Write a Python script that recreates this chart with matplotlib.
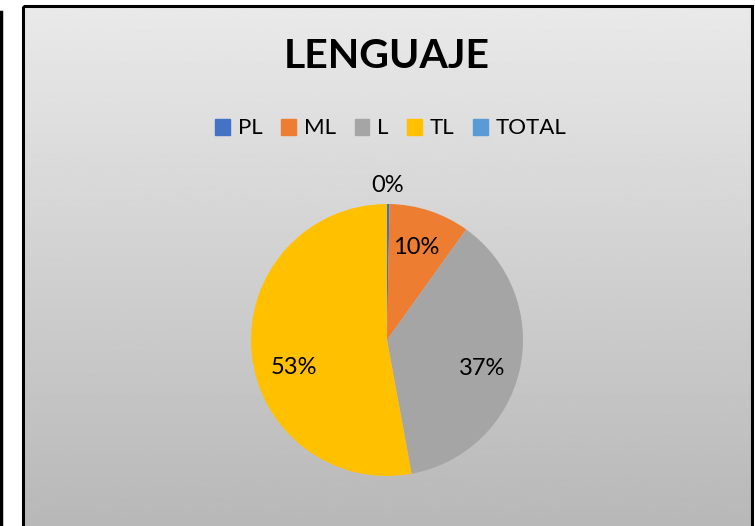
import matplotlib.pyplot as plt
import matplotlib.patches as mpatches
import numpy as np

plt.rcParams['font.family'] = ['Lato', 'DejaVu Sans']

# data
categories = ["PL", "ML", "L", "TL", "TOTAL"]
values = [0.3, 9.6, 37.2, 52.9, 0.0]
labels = ["0%", "10%", "37%", "53%", ""]
colors = ["#4472C4", "#ED7D31", "#A5A5A5", "#FFC000", "#5B9BD5"]

W, H = 755, 526
fig = plt.figure(figsize=(W / 100, H / 100), dpi=100)

# background in pixel coords
bg = fig.add_axes([0, 0, 1, 1])
bg.set_xlim(0, W); bg.set_ylim(H, 0); bg.axis("off")
grad = np.linspace(0.915, 0.72, 256).reshape(-1, 1)
bg.imshow(grad, cmap="gray", vmin=0, vmax=1, extent=[23, 752, H, 6], aspect="auto")
bg.add_patch(mpatches.Rectangle((23, 6), 729, H + 10, fill=False, ec="black", lw=2.2))
bg.plot([1, 1], [12, H], color="black", lw=2.5)

# pie
cx, cy, r = 387, 340, 136
ax = fig.add_axes([(cx - r) / W, (H - cy - r) / H, 2 * r / W, 2 * r / H])
wedges, _ = ax.pie(values, colors=colors, startangle=90, counterclock=False,
                   radius=1, wedgeprops=dict(linewidth=0))
ax.set_xlim(-1, 1); ax.set_ylim(-1, 1)

# excel's label placement is a bit off the bisector, nudge in pixels (x, down)
nudge = [(-1, 3), (-2, 0), (0, 7), (4, 19), (0, 0)]

total = sum(values)
start = 90.0
for v, lab, (nx, ny) in zip(values, labels, nudge):
    ang = np.deg2rad(start - v / total * 180)
    start -= v / total * 360
    if not lab:
        continue
    rr = 1.16 if v < 1 else 0.72
    ax.annotate(lab, (rr * np.cos(ang), rr * np.sin(ang)),
                xytext=(nx * 0.72, -ny * 0.72), textcoords="offset points",
                ha="center", va="center", fontsize=17, color="#000000",
                annotation_clip=False)

# title
fig.text(cx / W, 1 - 56 / H, "LENGUAJE", ha="center", va="center",
         fontsize=29.5, fontweight="bold")

handles = [mpatches.Patch(color=c, label=n) for c, n in zip(colors, categories)]
fig.legend(handles=handles, loc="center", bbox_to_anchor=(391 / W, 1 - 128.5 / H),
           ncol=5, frameon=False, fontsize=16, handlelength=0.66, handleheight=0.7,
           handletextpad=0.36, columnspacing=0.84, borderpad=0)

fig.savefig("out.png", dpi=100)
